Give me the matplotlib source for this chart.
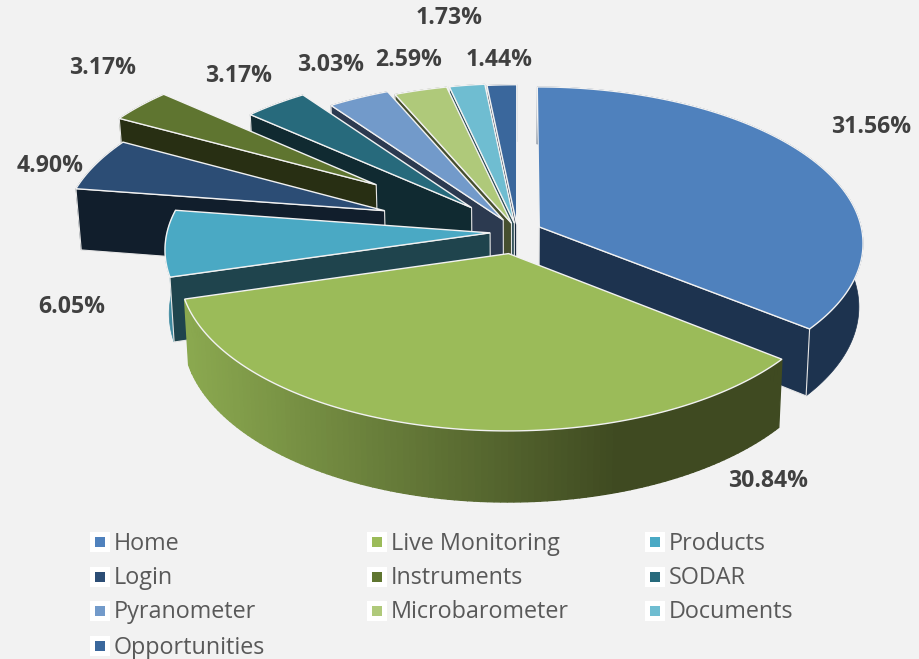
import numpy as np
import matplotlib
matplotlib.use("Agg")
import matplotlib.pyplot as plt

labels = ["Home", "Live Monitoring", "Products", "Login", "Instruments", "SODAR",
          "Pyranometer", "Microbarometer", "Documents", "Opportunities"]
values = [31.56, 30.84, 6.05, 4.90, 3.17, 3.17, 3.03, 2.59, 1.73, 1.44]
explode = [0.075, 0.14, 0.085, 0.44, 0.55, 0.215, 0.09, 0.06, 0.06, 0.05]

top_colors = ["#4f81bd", "#9bbb59", "#4aa9c4", "#2c4d75", "#5f7530", "#276a7c",
              "#729aca", "#afc97a", "#6fbdd1", "#3a679c"]
wall_colors = ["#1d334f", "#3f4a21", "#1f444d", "#111e2c", "#282f13", "#102a31",
               "#2c3a50", "#464f2f", "#2a4b54", "#17293f"]

label_pos = [(871, 127), (768, 481), (72, 307), (50, 166), (103, 68),
             (239, 76), (331, 65), (409, 60), (449, 18), (499, 60)]

# projection of the pie, pixels
cx, cy = 517.5, 232
rx, ry = 323, 155
depth = 63
persp = 0.10
conv = 0.012


def project(X, Y, Z=0.0):
    s = 1 / (1 + persp * np.asarray(Y))
    return cx + rx * np.asarray(X) * s * (1 - conv * np.asarray(Z)), cy - ry * np.asarray(Y) * s + depth * Z * s


fig = plt.figure(figsize=(9.19, 6.59), dpi=100, facecolor="#f2f2f2")
ax = fig.add_axes([0, 0, 1, 1])
ax.set_xlim(0, 919)
ax.set_ylim(659, 0)
ax.axis("off")

edge = "#e6e6e6"
shares = np.array(values) / sum(values) * 360
ends = np.cumsum(shares)
starts = ends - shares
mids = np.radians((starts + ends) / 2)

# far slices first
for i in np.argsort(-np.cos(mids)):
    ox = explode[i] * np.sin(mids[i])
    oy = explode[i] * np.cos(mids[i])
    th = np.radians(np.linspace(starts[i], ends[i], 120))
    rimX = ox + np.sin(th)
    rimY = oy + np.cos(th)

    # outer wall
    tx, ty = project(rimX, rimY, 0)
    bx, by = project(rimX, rimY, 1)
    if labels[i] == "Live Monitoring":
        c0 = np.array(matplotlib.colors.to_rgb("#8aa84f"))
        c1 = np.array(matplotlib.colors.to_rgb(wall_colors[i]))
        for k in range(len(th) - 1):
            t = np.clip((tx[k] - 190) / 430, 0, 1)
            col = c0 * (1 - t) + c1 * t
            ax.fill([tx[k], tx[k + 1], bx[k + 1], bx[k]], [ty[k], ty[k + 1], by[k + 1], by[k]],
                    facecolor=col, edgecolor=col, linewidth=1.0)
    else:
        col = "#3f8aa0" if labels[i] == "Products" else wall_colors[i]
        ax.fill(np.r_[tx, bx[::-1]], np.r_[ty, by[::-1]], facecolor=col, edgecolor=col, linewidth=0.5)

    # cut face on the near side only
    if np.cos(mids[i]) > -0.5:
        k = 0 if ty[0] > ty[-1] else -1
        fx = np.array([ox, rimX[k], rimX[k], ox])
        fy = np.array([oy, rimY[k], rimY[k], oy])
        px, py = project(fx, fy, np.array([0, 0, 1, 1]))
        ax.fill(px, py, facecolor=wall_colors[i], edgecolor=edge, linewidth=0.8)

    # top face
    px, py = project(np.r_[ox, rimX], np.r_[oy, rimY], 0)
    ax.fill(px, py, facecolor=top_colors[i], edgecolor="#f2f2f2", linewidth=1.0)

for i in range(len(values)):
    ax.text(label_pos[i][0], label_pos[i][1], "%.2f%%" % values[i], fontsize=16.6, fontweight="bold",
            family="Open Sans", color="#404040", ha="center", va="center")

# legend, row by row
col_x = [100, 377, 655]
row_y = [542, 577, 611, 646]
for i in range(len(labels)):
    lx = col_x[i % 3]
    ly = row_y[i // 3]
    ax.plot(lx, ly, marker="s", markersize=14, color="white", markeredgewidth=0)
    ax.plot(lx, ly, marker="s", markersize=7.5, color=top_colors[i], markeredgewidth=0)
    ax.text(lx + 14, ly + 1.5, labels[i], fontsize=16.8, family="Open Sans", color="#595959", ha="left", va="center")

fig.savefig("out.png", dpi=100, facecolor=fig.get_facecolor())
